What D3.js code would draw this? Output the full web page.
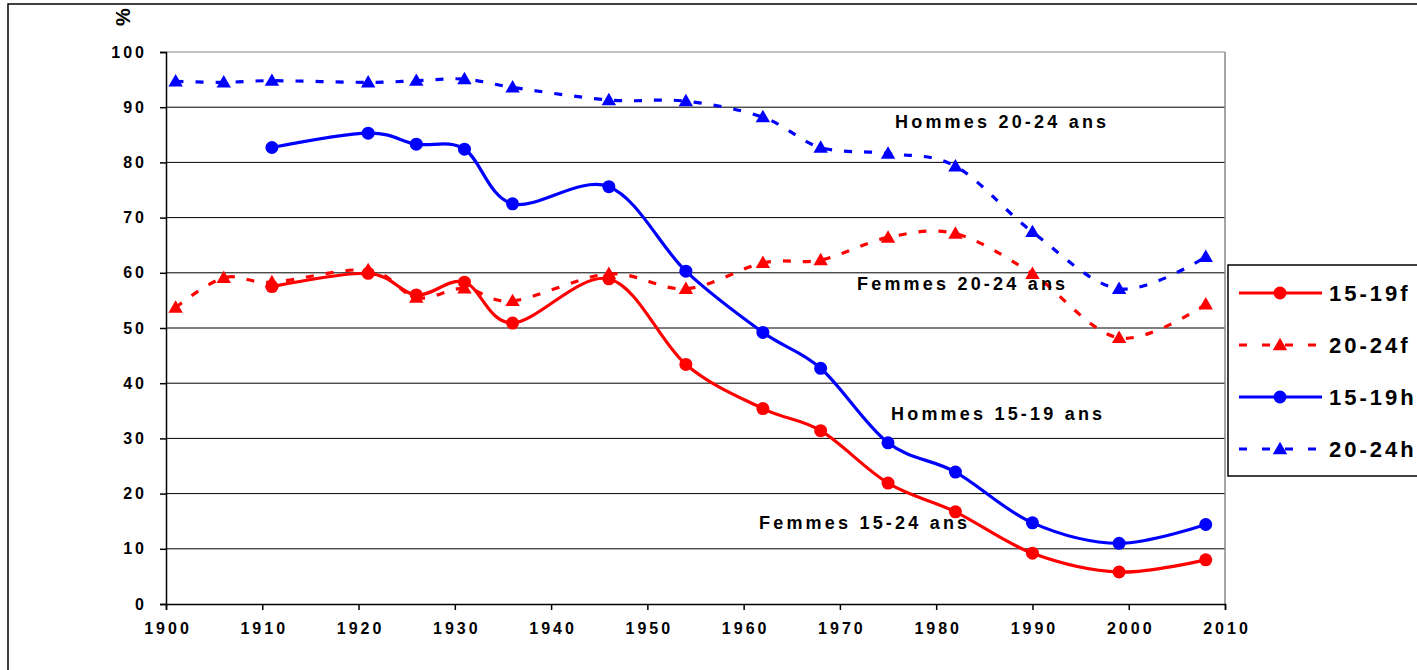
<!DOCTYPE html>
<html lang="fr">
<head>
<meta charset="utf-8">
<title>Taux d'activité des jeunes</title>
<script src="https://cdn.jsdelivr.net/npm/d3@7"></script>
<style>
  body { margin: 0; background: #fff; }
  text { font-family: "Liberation Sans", Arial, sans-serif; font-weight: bold; fill: #000; }
</style>
</head>
<body>
<div id="chart"></div>
<script>
// census years
var years = [1901, 1906, 1911, 1921, 1926, 1931, 1936, 1946, 1954, 1962, 1968, 1975, 1982, 1990, 1999, 2008];
var f1519 = [null, null, 57.5, 59.9, 56.0, 58.3, 50.9, 58.9, 43.4, 35.4, 31.4, 21.9, 16.7, 9.2, 5.8, 8.0];
var f2024 = [53.7, 59.1, 58.3, 60.5, 55.5, 57.2, 54.9, 59.8, 57.1, 61.8, 62.3, 66.4, 67.1, 59.8, 48.2, 54.3];
var h1519 = [null, null, 82.7, 85.3, 83.3, 82.4, 72.5, 75.6, 60.3, 49.2, 42.7, 29.2, 23.9, 14.7, 11.0, 14.4];
var h2024 = [94.7, 94.5, 94.8, 94.5, 94.8, 95.1, 93.6, 91.3, 91.1, 88.2, 82.7, 81.6, 79.3, 67.4, 57.1, 62.9];

var xTicks = [1900, 1910, 1920, 1930, 1940, 1950, 1960, 1970, 1980, 1990, 2000, 2010];
var yTicks = [0, 10, 20, 30, 40, 50, 60, 70, 80, 90, 100];

var seriesNames = ["15-19f", "20-24f", "15-19h", "20-24h"];
var seriesData = [f1519, f2024, h1519, h2024];
var seriesColor = ["#ff0000", "#ff0000", "#0000ff", "#0000ff"];
var seriesDashed = [false, true, false, true];

var notes = [
  { t: "Hommes 20-24 ans", x: 895, y: 128 },
  { t: "Femmes 20-24 ans", x: 857, y: 290 },
  { t: "Hommes 15-19 ans", x: 891, y: 420 },
  { t: "Femmes 15-24 ans", x: 759, y: 529 }
];

var w = 1417, h = 670;
var pLeft = 166, pRight = 1225, pTop = 52, pBottom = 604;

var svg = d3.select("#chart").append("svg")
    .attr("width", w)
    .attr("height", h);

// outer frame
svg.append("rect")
    .attr("x", 8).attr("y", 4)
    .attr("width", w + 20).attr("height", h + 20)
    .attr("fill", "none")
    .attr("stroke", "#000")
    .attr("stroke-width", 1.5);

var x = d3.scaleLinear().domain([1900, 2010]).range([pLeft, pRight]);
var y = d3.scaleLinear().domain([0, 100]).range([pBottom, pTop]);

// gridlines
svg.append("g").selectAll("line")
    .data(yTicks.filter(function(d) { return d > 0; }))
    .enter().append("line")
    .attr("x1", pLeft).attr("x2", pRight)
    .attr("y1", function(d) { return y(d); })
    .attr("y2", function(d) { return y(d); })
    .attr("stroke", function(d) { return d == 100 ? "#888" : "#000"; })
    .attr("stroke-width", 1);

// right border of plot area
svg.append("line")
    .attr("x1", pRight).attr("x2", pRight)
    .attr("y1", pTop).attr("y2", pBottom)
    .attr("stroke", "#888").attr("stroke-width", 1.5);

// y axis
var yAxis = d3.axisLeft(y).tickValues(yTicks).tickSize(6).tickPadding(13);
var gy = svg.append("g").attr("transform", "translate(" + pLeft + ",0)").call(yAxis);
gy.select(".domain").attr("stroke", "#000").attr("stroke-width", 1.5);
gy.selectAll(".tick line").attr("stroke", "#000").attr("stroke-width", 1.5);
gy.selectAll("text")
    .style("font-size", "16px")
    .style("letter-spacing", "3px")
    .style("font-family", "'Liberation Sans', Arial, sans-serif")
    .style("font-weight", "bold")
    .attr("fill", "#000");

// x axis
var xAxis = d3.axisBottom(x).tickValues(xTicks).tickFormat(d3.format("d")).tickSize(6).tickPadding(13);
var gx = svg.append("g").attr("transform", "translate(0," + pBottom + ")").call(xAxis);
gx.select(".domain").attr("stroke", "#000").attr("stroke-width", 1.5);
gx.selectAll(".tick line").attr("stroke", "#000").attr("stroke-width", 1.5);
gx.selectAll("text")
    .style("font-size", "16px")
    .style("letter-spacing", "3px")
    .style("font-family", "'Liberation Sans', Arial, sans-serif")
    .style("font-weight", "bold")
    .attr("dx", "1.5px")
    .attr("fill", "#000");

// % label
svg.append("text")
    .attr("transform", "translate(130,17) rotate(-90)")
    .attr("text-anchor", "middle")
    .style("font-size", "20px")
    .text("%");

var line = d3.line()
    .x(function(d) { return x(d.year); })
    .y(function(d) { return y(d.v); })
    .curve(d3.curveCardinal.tension(0));

var tri = d3.symbol().type(d3.symbolTriangle).size(90);

seriesData.forEach(function(vals, i) {
  var pts = years.map(function(yr, j) { return { year: yr, v: vals[j] }; });
  var valid = pts.filter(function(d) { return d.v != null; });
  svg.append("path")
      .datum(valid)
      .attr("d", line)
      .attr("fill", "none")
      .attr("stroke", seriesColor[i])
      .attr("stroke-width", 3.2)
      .attr("stroke-dasharray", seriesDashed[i] ? "8,12" : null);
  if (seriesDashed[i]) {
    svg.append("g").selectAll("path")
        .data(valid).enter().append("path")
        .attr("d", tri)
        .attr("transform", function(d) { return "translate(" + x(d.year) + "," + (y(d.v) + 1) + ")"; })
        .attr("fill", seriesColor[i]);
  } else {
    svg.append("g").selectAll("circle")
        .data(valid).enter().append("circle")
        .attr("cx", function(d) { return x(d.year); })
        .attr("cy", function(d) { return y(d.v); })
        .attr("r", 6.5)
        .attr("fill", seriesColor[i]);
  }
});

// annotations
svg.append("g").selectAll("text")
    .data(notes).enter().append("text")
    .attr("x", function(d) { return d.x; })
    .attr("y", function(d) { return d.y; })
    .style("font-size", "18px")
    .style("letter-spacing", "3.2px")
    .text(function(d) { return d.t; });

// legend
var lg = svg.append("g").attr("transform", "translate(1228,265)");
lg.append("rect")
    .attr("x", 0).attr("y", 0)
    .attr("width", 220).attr("height", 211)
    .attr("fill", "#fff")
    .attr("stroke", "#000")
    .attr("stroke-width", 1.5);
var rows = lg.selectAll(".row")
    .data(seriesNames).enter().append("g")
    .attr("transform", function(d, i) { return "translate(0," + (28 + i * 52) + ")"; });
rows.append("line")
    .attr("x1", 11).attr("x2", 94)
    .attr("y1", 0).attr("y2", 0)
    .attr("stroke", function(d, i) { return seriesColor[i]; })
    .attr("stroke-width", 3.2)
    .attr("stroke-dasharray", function(d, i) { return seriesDashed[i] ? "8,15" : null; });
rows.each(function(d, i) {
  var g = d3.select(this);
  if (seriesDashed[i]) {
    g.append("path").attr("d", tri)
        .attr("transform", "translate(52,1)")
        .attr("fill", seriesColor[i]);
  } else {
    g.append("circle").attr("cx", 52).attr("cy", 0).attr("r", 6.5)
        .attr("fill", seriesColor[i]);
  }
});
rows.append("text")
    .attr("x", 101)
    .attr("y", 8)
    .style("font-size", "22px")
    .style("letter-spacing", "3px")
    .text(function(d) { return d; });
</script>
</body>
</html>
